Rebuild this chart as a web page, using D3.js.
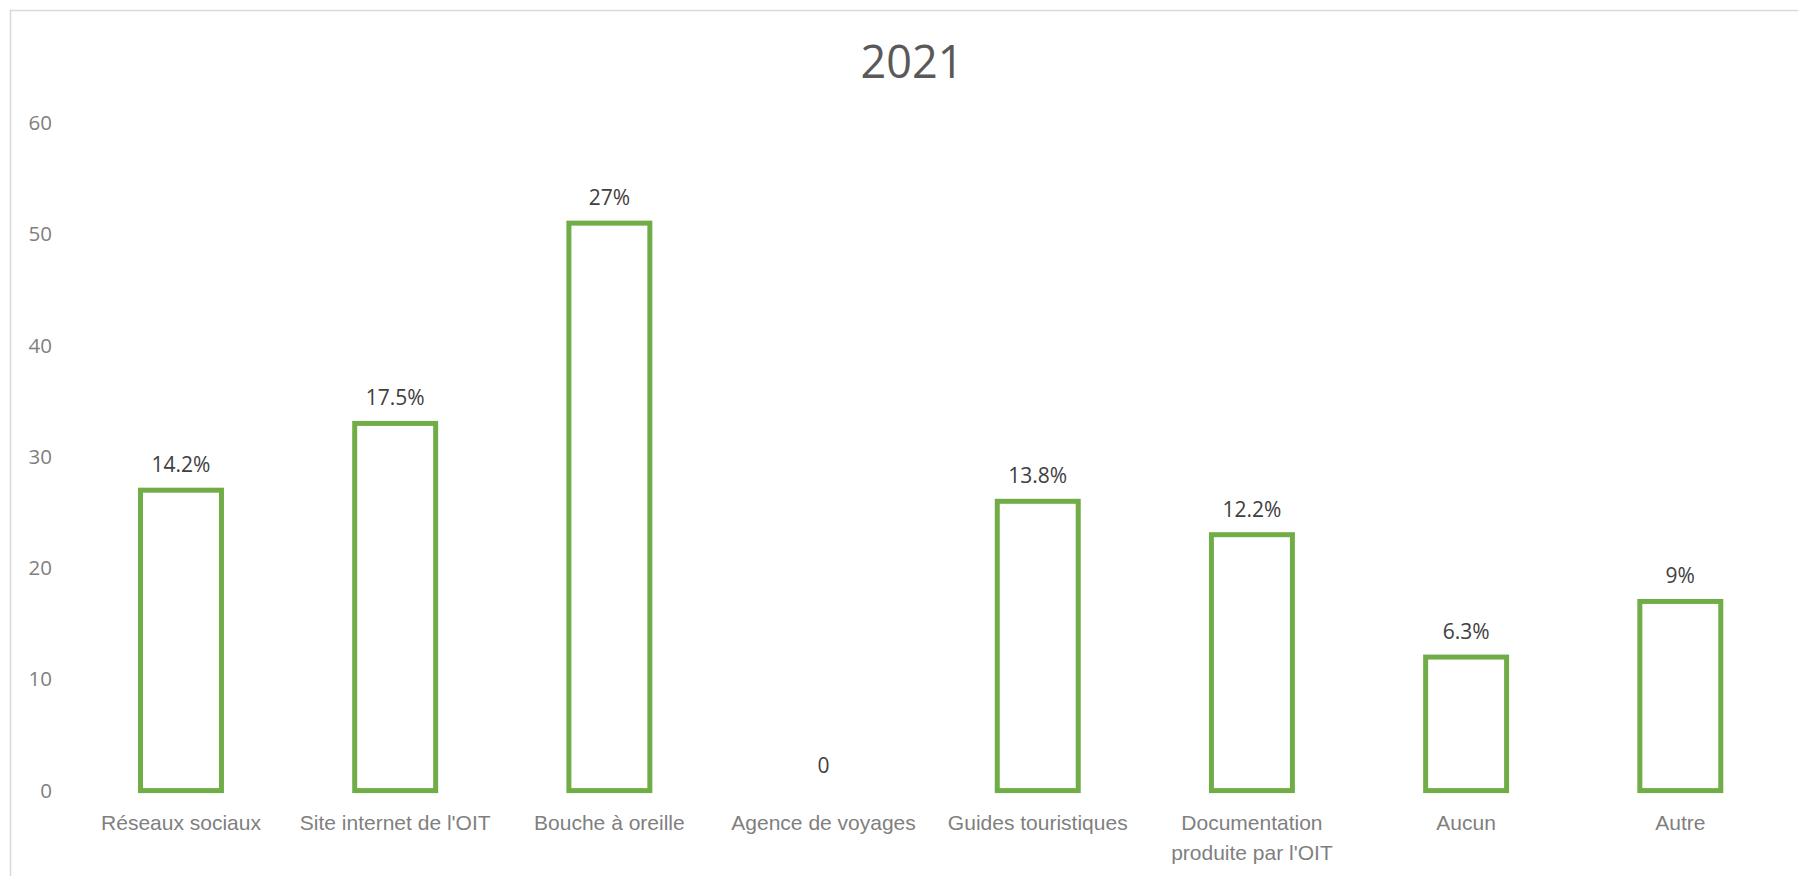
<!DOCTYPE html>
<html>
<head>
<meta charset="utf-8">
<script src="https://cdn.jsdelivr.net/npm/d3@7/dist/d3.min.js"></script>
<style>
  html, body { margin: 0; padding: 0; background: #fff; }
  svg { display: block; font-family: "Open Sans", "Noto Sans", sans-serif; }
</style>
</head>
<body>
<svg id="chart" width="1798" height="876"></svg>
<script>
// Sources d'information citées (2021)
const categories = [
  ["Réseaux sociaux"],
  ["Site internet de l'OIT"],
  ["Bouche à oreille"],
  ["Agence de voyages"],
  ["Guides touristiques"],
  ["Documentation", "produite par l'OIT"],
  ["Aucun"],
  ["Autre"]
];
const counts = [27, 33, 51, 0, 26, 23, 12, 17];
const valueLabels = ["14.2%", "17.5%", "27%", "0", "13.8%", "12.2%", "6.3%", "9%"];
const yTicks = [0, 10, 20, 30, 40, 50, 60];
const title = "2021";

const svg = d3.select("#chart");
const W = 1798, H = 876;
const plot = { left: 73.9, right: 1787.4, top: 123, bottom: 790.6 };

// chart frame
svg.append("rect")
  .attr("x", 10.5).attr("y", 10.5)
  .attr("width", W + 20).attr("height", H + 20)
  .attr("fill", "#fff")
  .attr("stroke", "#d9d9d9").attr("stroke-width", 1.5);

const x = d3.scaleBand()
  .domain(d3.range(categories.length))
  .range([plot.left, plot.right])
  .paddingInner(0.622)
  .paddingOuter(0.311);

const y = d3.scaleLinear()
  .domain([0, 60])
  .range([plot.bottom, plot.top]);

// title
svg.append("text")
  .attr("x", 912).attr("y", 78)
  .attr("text-anchor", "middle")
  .attr("font-size", 45)
  .attr("fill", "#595959")
  .text(title);

// y axis (labels only)
const yAxis = d3.axisLeft(y).tickValues(yTicks).tickSize(0).tickPadding(0);
const gy = svg.append("g")
  .attr("transform", `translate(52,0)`)
  .call(yAxis);
gy.select(".domain").remove();
gy.selectAll("text")
  .attr("font-family", "'Open Sans', sans-serif")
  .attr("font-size", 20.5)
  .attr("fill", "#7f7f7f");

// bars: outlined, no fill
svg.append("g")
  .selectAll("rect")
  .data(counts)
  .join("rect")
  .attr("x", (d, i) => x(i))
  .attr("width", x.bandwidth())
  .attr("y", d => y(d))
  .attr("height", d => y(0) - y(d))
  .attr("fill", "none")
  .attr("stroke", "#70ad47")
  .attr("stroke-width", d => d > 0 ? 5 : 0);

// value labels
svg.append("g")
  .selectAll("text")
  .data(counts)
  .join("text")
  .attr("x", (d, i) => x(i) + x.bandwidth() / 2)
  .attr("y", d => y(d) - 18)
  .attr("text-anchor", "middle")
  .attr("font-size", 21)
  .attr("fill", "#404040")
  .text((d, i) => valueLabels[i]);

// category labels
const xAxis = d3.axisBottom(x).tickSize(0).tickPadding(0).tickFormat(() => "");
const gx = svg.append("g")
  .attr("transform", `translate(0,${plot.bottom})`)
  .call(xAxis);
gx.select(".domain").remove();
gx.selectAll(".tick text").remove();
gx.selectAll(".tick").append("text")
  .attr("text-anchor", "middle")
  .attr("font-size", 21)
  .attr("fill", "#7f7f7f")
  .selectAll("tspan")
  .data(i => categories[i])
  .join("tspan")
  .attr("x", 0)
  .attr("y", (d, j) => 39.5 + j * 30)
  .text(d => d);
</script>
</body>
</html>
